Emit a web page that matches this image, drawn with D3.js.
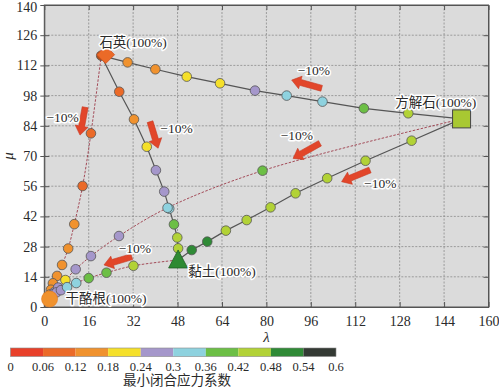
<!DOCTYPE html>
<html>
<head>
<meta charset="utf-8">
<script src="https://cdn.jsdelivr.net/npm/d3@7"></script>
<style>
body { margin: 0; background: #fff; }
text { font-family: "Liberation Serif", "Noto Sans CJK SC", serif; fill: #2a2a2a; }
.halo { stroke: #fff; stroke-width: 3px; paint-order: stroke; stroke-linejoin: round; }
</style>
</head>
<body>
<svg id="chart"></svg>
<script>
// colour bins of the minimum closure stress coefficient
var binEdges = [0, 0.06, 0.12, 0.18, 0.24, 0.3, 0.36, 0.42, 0.48, 0.54, 0.6]
var binColors = ["#e8402a", "#eb6a28", "#f0922e", "#f5e02a", "#a597cb", "#8ed2df", "#6cbf45", "#b2d236", "#2f8a36", "#343a34"]
var binLabels = ["0", "0.06", "0.12", "0.18", "0.24", "0.3", "0.36", "0.42", "0.48", "0.54", "0.6"]
var xTicks = [0, 16, 32, 48, 64, 80, 96, 112, 128, 144, 160]
var yTicks = [0, 14, 28, 42, 56, 70, 84, 98, 112, 126, 140]

// end members [lambda, mu]
var quartz = [20.5, 116.5]
var calcite = [150.3, 87.2]
var clay = [48.2, 21.8]
var kerogen = [1.9, 3.7]

// quartz -> calcite (solid)
var qcLambda = [30.0, 40.0, 51.3, 63.3, 75.9, 87.3, 100.2, 115.1, 131.1]
var qcMu = [113.4, 110.2, 106.8, 103.7, 100.3, 98.0, 95.2, 92.1, 89.8]
var qcCoef = [0.15, 0.15, 0.21, 0.21, 0.27, 0.33, 0.33, 0.39, 0.45]
// quartz -> clay (solid)
var qlLambda = [27.0, 32.3, 36.9, 40.2, 43.2, 45.0, 46.7, 47.9, 48.2]
var qlMu = [99.8, 87.0, 74.3, 63.4, 53.5, 45.6, 38.3, 32.2, 27.2]
var qlCoef = [0.09, 0.15, 0.21, 0.27, 0.27, 0.33, 0.39, 0.45, 0.45]
// clay -> calcite (solid)
var lcLambda = [53.1, 58.7, 65.4, 72.9, 81.5, 90.5, 101.9, 115.7, 132.3]
var lcMu = [26.4, 30.3, 35.4, 40.3, 46.2, 52.7, 59.7, 67.8, 77.1]
var lcCoef = [0.51, 0.51, 0.45, 0.45, 0.45, 0.45, 0.45, 0.45, 0.45]
// quartz -> kerogen (dashed)
var qkLambda = [16.8, 13.8, 10.8, 8.6, 6.4, 4.6, 3.1, 2.4, 2.0]
var qkMu = [80.5, 56.1, 38.4, 27.1, 19.5, 14.4, 11.0, 8.0, 5.8]
var qkCoef = [0.09, 0.09, 0.15, 0.15, 0.15, 0.15, 0.15, 0.15, 0.15]
// kerogen -> calcite (dashed)
var kcLambda = [3.5, 5.0, 7.6, 11.3, 16.8, 26.9, 44.4, 78.6]
var kcMu = [6.8, 9.0, 12.5, 17.5, 23.6, 32.9, 46.0, 63.2]
var kcCoef = [0.27, 0.27, 0.21, 0.27, 0.27, 0.27, 0.33, 0.39]
// kerogen -> clay (dashed)
var klLambda = [3.3, 4.4, 6.0, 8.2, 11.5, 16.0, 22.4, 32.1]
var klMu = [6.0, 6.8, 7.8, 9.2, 11.1, 13.4, 15.9, 19.1]
var klCoef = [0.27, 0.27, 0.27, 0.33, 0.33, 0.39, 0.39, 0.45]

// "-10%" arrows: from [lambda, mu] to [lambda, mu], label position
var arrowFrom = [[14.7, 92.6], [38.1, 85.9], [99.9, 101.4], [99.3, 75.9], [117.3, 63.5], [31.5, 23.3]]
var arrowTo = [[12.85, 79.7], [41.0, 73.6], [89.1, 105.2], [89.6, 68.9], [107.1, 58.1], [21.5, 19.5]]
var arrowText = [[6.6, 88.1], [47.6, 83.0], [97.1, 109.9], [91.0, 79.7], [121.0, 57.5], [32.6, 27.4]]

var width = 499
var height = 389
var plotL = 44.3, plotR = 488.5, plotT = 5, plotB = 307

var svg = d3.select("#chart").attr("width", width).attr("height", height)

var xs = d3.scaleLinear().domain([0, 160]).range([plotL, plotR])
var ys = d3.scaleLinear().domain([0, 140]).range([plotB, plotT])
var color = d3.scaleThreshold().domain(binEdges.slice(1, -1)).range(binColors)

// background and grid
svg.append("rect")
	.attr("x", plotL).attr("y", plotT)
	.attr("width", plotR - plotL).attr("height", plotB - plotT)
	.attr("fill", "#dbdbdb")

var grid = svg.append("g")
grid.selectAll(".gx").data(xTicks.slice(1, -1)).enter().append("line")
	.attr("x1", d => xs(d)).attr("x2", d => xs(d))
	.attr("y1", plotT).attr("y2", plotB)
	.attr("stroke", "#8a8a8a").attr("stroke-width", 0.8).attr("stroke-dasharray", "2,1.5")
grid.selectAll(".gy").data(yTicks.slice(1, -1)).enter().append("line")
	.attr("y1", d => ys(d)).attr("y2", d => ys(d))
	.attr("x1", plotL).attr("x2", plotR)
	.attr("stroke", "#8a8a8a").attr("stroke-width", 0.8).attr("stroke-dasharray", "2,1.5")

// axes
var xAxis = d3.axisBottom(xs).tickValues(xTicks).tickSizeInner(-5).tickSizeOuter(0).tickPadding(9)
var yAxis = d3.axisLeft(ys).tickValues(yTicks).tickSizeInner(4).tickSizeOuter(0).tickPadding(3)
var gx = svg.append("g").attr("transform", "translate(0," + plotB + ")").call(xAxis)
var gy = svg.append("g").attr("transform", "translate(" + plotL + ",0)").call(yAxis)
// inward ticks on left, right and top
gy.selectAll(".tick").append("line").attr("x2", 5).attr("stroke", "#555")
svg.append("g").attr("transform", "translate(" + plotR + ",0)")
	.call(d3.axisRight(ys).tickValues(yTicks).tickSizeInner(-5).tickSizeOuter(0).tickFormat(""))
svg.append("g").attr("transform", "translate(0," + plotT + ")")
	.call(d3.axisTop(xs).tickValues(xTicks).tickSizeInner(-5).tickSizeOuter(0).tickFormat(""))
svg.selectAll(".domain, .tick line").attr("stroke", "#555")
svg.selectAll(".tick text").attr("font-size", "14px").attr("fill", "#2a2a2a")
	.style("font-family", "'Liberation Serif', serif")
gy.selectAll(".tick").filter(d => d === 140).select("text").attr("dy", "0.45em")
svg.append("rect")
	.attr("x", plotL).attr("y", plotT)
	.attr("width", plotR - plotL).attr("height", plotB - plotT)
	.attr("fill", "none").attr("stroke", "#555").attr("stroke-width", 1)

// axis titles
svg.append("text").attr("x", (plotL + plotR) / 2).attr("y", 342)
	.attr("text-anchor", "middle").attr("font-size", "15px").style("font-style", "italic").text("λ")
svg.append("text").attr("transform", "translate(13," + ((plotT + plotB) / 2) + ") rotate(-90)")
	.attr("text-anchor", "middle").attr("font-size", "15px").style("font-style", "italic").text("μ")

// mixing lines
var line = d3.line().x(d => xs(d[0])).y(d => ys(d[1]))
var curve = d3.line().x(d => xs(d[0])).y(d => ys(d[1])).curve(d3.curveCatmullRom.alpha(0.5))
function series(a, b, lam, mu, coef) {
	var pts = lam.map((l, i) => ({ l: l, m: mu[i], c: coef[i] }))
	return { start: a, end: b, pts: pts }
}
var solid = [
	series(quartz, calcite, qcLambda, qcMu, qcCoef),
	series(quartz, clay, qlLambda, qlMu, qlCoef),
	series(clay, calcite, lcLambda, lcMu, lcCoef)
]
var dashed = [
	series(quartz, kerogen, qkLambda, qkMu, qkCoef),
	series(kerogen, calcite, kcLambda, kcMu, kcCoef),
	series(kerogen, clay, klLambda, klMu, klCoef)
]
var path = d => [d.start].concat(d.pts.map(p => [p.l, p.m])).concat([d.end])

svg.append("g").selectAll("path").data(dashed).enter().append("path")
	.attr("d", d => curve(path(d)))
	.attr("fill", "none").attr("stroke", "#9c3a48").attr("stroke-width", 0.9).attr("stroke-dasharray", "2.5,1.5")
svg.append("g").selectAll("path").data(solid).enter().append("path")
	.attr("d", d => line(path(d)))
	.attr("fill", "none").attr("stroke", "#555").attr("stroke-width", 1.2)

var allPts = []
solid.concat(dashed).forEach(s => { allPts = allPts.concat(s.pts) })
svg.append("g").selectAll("circle").data(allPts).enter().append("circle")
	.attr("cx", d => xs(d.l)).attr("cy", d => ys(d.m)).attr("r", 4.8)
	.attr("fill", d => color(d.c)).attr("stroke", "#555").attr("stroke-width", 0.8)

// end members
svg.append("circle").attr("cx", xs(quartz[0])).attr("cy", ys(quartz[1])).attr("r", 4.8)
	.attr("fill", "#b0501e").attr("stroke", "#555").attr("stroke-width", 0.8)
svg.append("path")
	.attr("d", d3.symbol().type(d3.symbolDiamond2).size(200)())
	.attr("transform", "translate(" + (xs(quartz[0]) + 4.5) + "," + (ys(quartz[1]) - 1) + ")")
	.attr("fill", "#eb6a28").attr("stroke", "#d05020").attr("stroke-width", 0.8)
svg.append("rect")
	.attr("x", xs(calcite[0]) - 9).attr("y", ys(calcite[1]) - 9).attr("width", 18).attr("height", 18)
	.attr("fill", "#a8c832").attr("stroke", "#444").attr("stroke-width", 1)
var cx = xs(clay[0]), cy = ys(clay[1])
svg.append("path")
	.attr("d", "M" + cx + "," + (cy - 10) + "L" + (cx + 9.5) + "," + (cy + 8) + "L" + (cx - 9.5) + "," + (cy + 8) + "Z")
	.attr("fill", "#2e8a32").attr("stroke", "#1f5e22").attr("stroke-width", 0.8)
svg.append("circle").attr("cx", xs(kerogen[0])).attr("cy", ys(kerogen[1])).attr("r", 8)
	.attr("fill", "#f0922e").attr("stroke", "#e07820").attr("stroke-width", 0.6)

// end member labels
var memberNames = ["石英(100%)", "方解石(100%)", "黏土(100%)", "干酪根(100%)"]
var memberLabelPos = [[32.0, 120.5], [141.0, 92.7], [64.0, 14.6], [22.2, 1.9]]
svg.append("g").selectAll("text").data(memberNames).enter().append("text")
	.attr("class", "halo")
	.attr("x", (d, i) => xs(memberLabelPos[i][0])).attr("y", (d, i) => ys(memberLabelPos[i][1]))
	.attr("text-anchor", "middle").attr("font-size", "13.5px").text(d => d)

// arrows
function arrowPath(a, b) {
	var x0 = xs(a[0]), y0 = ys(a[1]), x1 = xs(b[0]), y1 = ys(b[1])
	var dx = x1 - x0, dy = y1 - y0, len = Math.sqrt(dx * dx + dy * dy)
	var ux = dx / len, uy = dy / len, nx = -uy, ny = ux
	var sw = 3, hw = 6.5, hl = 9
	var bx = x1 - ux * hl, by = y1 - uy * hl
	var p = [
		[x0 + nx * sw, y0 + ny * sw], [bx + nx * sw, by + ny * sw], [bx + nx * hw, by + ny * hw],
		[x1, y1],
		[bx - nx * hw, by - ny * hw], [bx - nx * sw, by - ny * sw], [x0 - nx * sw, y0 - ny * sw]
	]
	return "M" + p.map(q => q[0].toFixed(1) + "," + q[1].toFixed(1)).join("L") + "Z"
}
svg.append("g").selectAll("path").data(arrowFrom).enter().append("path")
	.attr("d", (d, i) => arrowPath(d, arrowTo[i]))
	.attr("fill", "#e2462a").attr("stroke", "#c8361e").attr("stroke-width", 0.6)
svg.append("g").selectAll("text").data(arrowText).enter().append("text")
	.attr("class", "halo")
	.attr("x", d => xs(d[0])).attr("y", d => ys(d[1]) + 5)
	.attr("text-anchor", "middle").attr("font-size", "13.5px").text("−10%")

// colour bar legend
var cb = d3.scaleLinear().domain([0, 0.6]).range([10.5, 336])
var legend = svg.append("g")
legend.selectAll("rect").data(binColors).enter().append("rect")
	.attr("x", (d, i) => cb(binEdges[i])).attr("y", 348)
	.attr("width", (d, i) => cb(binEdges[i + 1]) - cb(binEdges[i])).attr("height", 8.5)
	.attr("fill", d => d)
legend.append("rect").attr("x", cb(0)).attr("y", 348)
	.attr("width", cb(0.6) - cb(0)).attr("height", 8.5)
	.attr("fill", "none").attr("stroke", "#888").attr("stroke-width", 0.6)
legend.selectAll("text").data(binLabels).enter().append("text")
	.attr("x", (d, i) => cb(binEdges[i])).attr("y", 371)
	.attr("text-anchor", "middle").attr("font-size", "12.5px").text(d => d)
svg.append("text").attr("x", 177).attr("y", 385)
	.attr("text-anchor", "middle").attr("font-size", "13.5px").text("最小闭合应力系数")
</script>
</body>
</html>
